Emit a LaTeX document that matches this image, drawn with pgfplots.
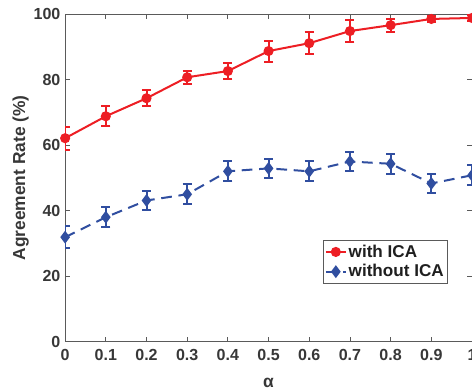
\documentclass[border=0pt]{standalone}
\usepackage{fontspec}
\setmainfont{Liberation Sans}
\usepackage{pgfplots}
\usepackage{pgfplotstable}
\usetikzlibrary{calc}
\pgfplotsset{compat=1.18}
\definecolor{myred}{RGB}{237,30,36}
\definecolor{myblue}{RGB}{48,78,160}
\definecolor{axgray}{RGB}{90,90,90}
\definecolor{txt}{RGB}{55,55,55}
\pgfplotstableread{
x y e
0 62.1 3.5
0.1 68.8 3.0
0.2 74.3 2.5
0.3 80.7 2.0
0.4 82.6 2.5
0.5 88.7 3.2
0.6 91.1 3.3
0.7 94.8 3.3
0.8 96.6 2.0
0.9 98.5 1.0
1.0 98.8 0.8
}\withica
\pgfplotstableread{
x y e
0 31.9 3.3
0.1 38.0 3.0
0.2 43.1 3.0
0.3 45.0 3.0
0.4 52.0 3.0
0.5 52.9 3.0
0.6 52.0 3.0
0.7 55.0 3.0
0.8 54.3 3.0
0.9 48.3 3.0
1.0 50.8 3.0
}\withoutica
\begin{document}
\begin{tikzpicture}
\begin{axis}[
  name=ax,
  scale only axis, width=304.5pt, height=245.25pt,
  xmin=0, xmax=1, ymin=0, ymax=100,
  xtick={0,0.1,0.2,0.3,0.4,0.5,0.6,0.7,0.8,0.9,1},
  xticklabels={0,0.1,0.2,0.3,0.4,0.5,0.6,0.7,0.8,0.9,1},
  ytick={0,20,40,60,80,100},
  tick align=inside, major tick length=3.75pt,
  axis line style={axgray, line width=0.6pt},
  tick style={axgray, line width=0.6pt},
  ticklabel style={font=\bfseries\fontsize{12}{14}\selectfont, text=txt},
  xticklabel style={yshift=-2.5pt},
  /pgf/number format/assume math mode=true,
  xlabel={α}, ylabel={Agreement Rate (\%)},
  label style={font=\bfseries\fontsize{13}{15}\selectfont, text=txt},
  xlabel style={at={(axis description cs:0.5,0)}, anchor=base, yshift=-34pt},
  ylabel style={at={(axis description cs:0,0.5)}, anchor=base, yshift=30pt},
  legend style={at={(0.633,0.309)}, anchor=north west, draw=axgray,
    font=\bfseries\fontsize{12.8}{14}\selectfont, text=black!88,
    inner sep=1.5pt, row sep=1pt, nodes={inner sep=1.5pt}},
  legend cell align=left,
  legend image code/.code={\draw[mark repeat=2,mark phase=2] plot coordinates {(0cm,0cm) (0.26cm,0cm) (0.52cm,0cm)};},
]
\addplot[myred, line width=1.5pt, mark=*, mark size=3pt, mark options={solid},
  error bars/.cd, y dir=both, y explicit,
  error bar style={line width=1.5pt, solid},
  error mark options={rotate=90, mark size=3.4pt, line width=1.5pt, solid}]
  table[x=x, y=y, y error=e]{\withica};
\addlegendentry{with ICA}
\addplot[myblue, line width=1.5pt, dash pattern=on 8pt off 5pt, mark=diamond*, mark size=3.6pt, mark options={solid},
  error bars/.cd, y dir=both, y explicit,
  error bar style={line width=1.5pt, solid},
  error mark options={rotate=90, mark size=3.4pt, line width=1.5pt, solid}]
  table[x=x, y=y, y error=e]{\withoutica};
\addlegendentry{without ICA}
\end{axis}
\pgfresetboundingbox
\useasboundingbox ($(ax.south west)+(-48.75pt,-36pt)$) rectangle ($(ax.north east)+(0pt,10.5pt)$);
\end{tikzpicture}
\end{document}
